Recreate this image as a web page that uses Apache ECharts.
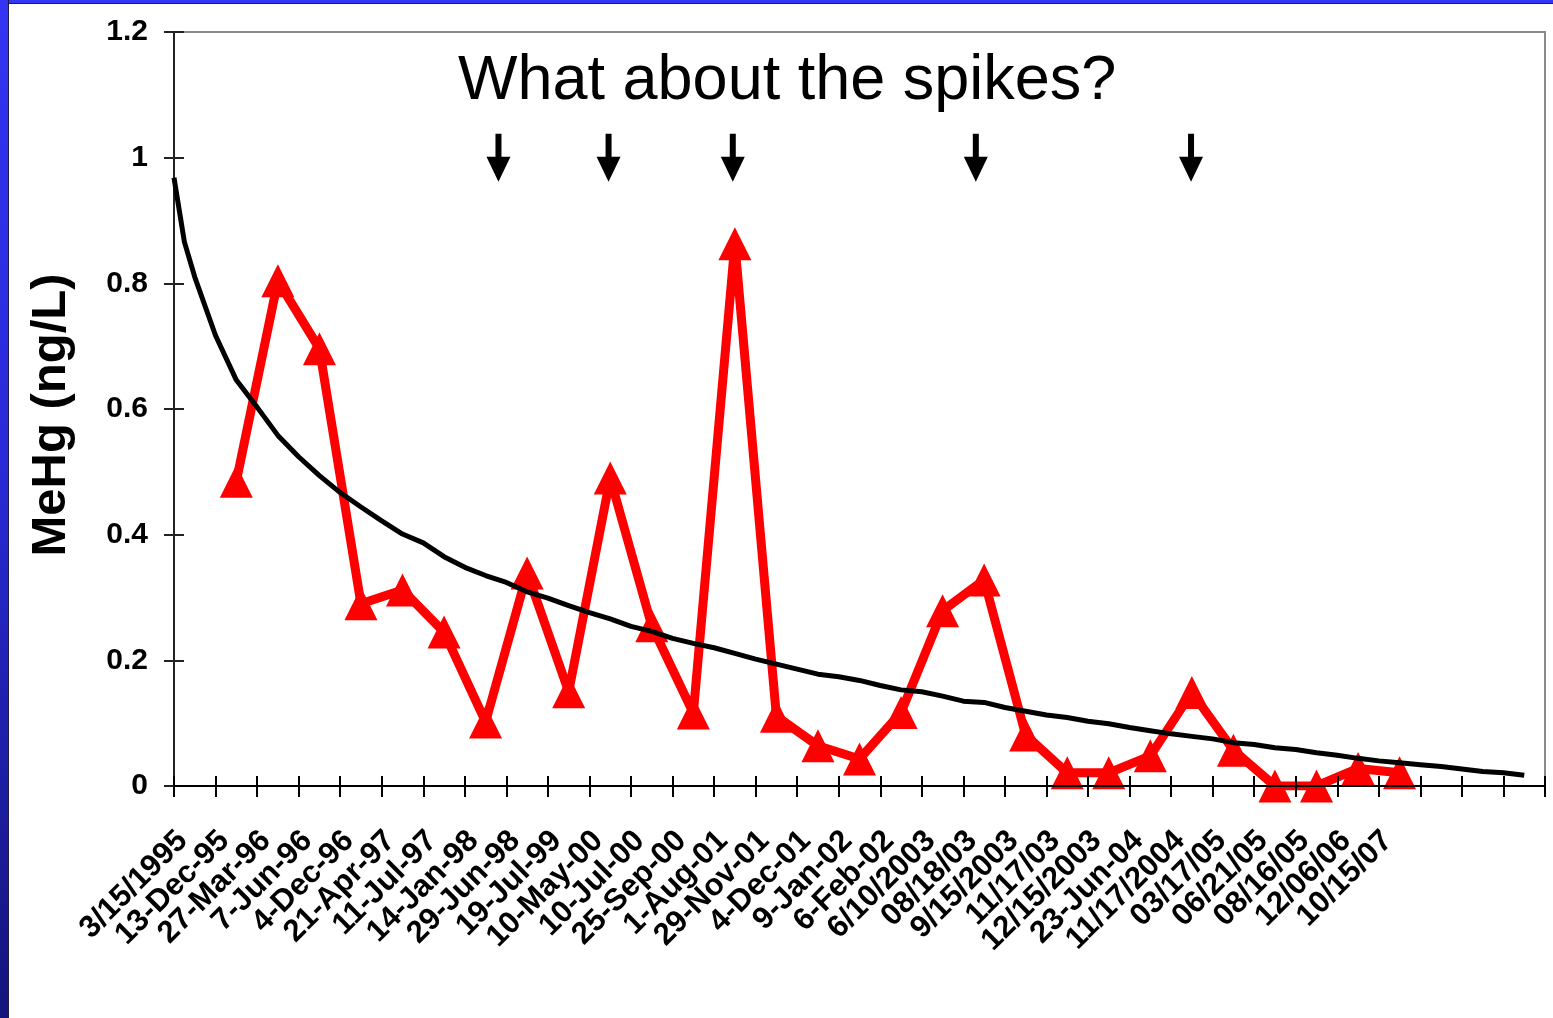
<!DOCTYPE html>
<html>
<head>
<meta charset="utf-8">
<title>MeHg</title>
<script src="https://cdn.jsdelivr.net/npm/echarts@6/dist/echarts.min.js"></script>
<style>
  html, body { margin: 0; padding: 0; background: #fff; }
  #chart { width: 1553px; height: 1018px; }
  .bar-left {
    position: absolute; left: 0; top: 0; width: 8px; height: 1018px;
    background: linear-gradient(to bottom, #3434f4, #2a2ad8 45%, #14147c);
    border-right: 1px solid #1c1c40;
  }
  .bar-top {
    position: absolute; left: 0; top: 0; width: 1553px; height: 3px;
    background: #3434f4; border-bottom: 1px solid #1c1c40;
  }
</style>
</head>
<body>
<div id="chart"></div>
<div class="bar-top"></div>
<div class="bar-left"></div>
<script>
// sample dates (last 3 slots are the trendline's forward extension)
var categories = ['3/15/1995', '13-Dec-95', '27-Mar-96', '7-Jun-96', '4-Dec-96', '21-Apr-97',
  '11-Jul-97', '14-Jan-98', '29-Jun-98', '19-Jul-99', '10-May-00', '10-Jul-00', '25-Sep-00',
  '1-Aug-01', '29-Nov-01', '4-Dec-01', '9-Jan-02', '6-Feb-02', '6/10/2003', '08/18/03',
  '9/15/2003', '11/17/03', '12/15/2003', '23-Jun-04', '11/17/2004', '03/17/05', '06/21/05',
  '08/16/05', '12/06/06', '10/15/07', '', '', '']

// MeHg (ng/L)
var mehg = [null, 0.485, 0.804, 0.696, 0.29, 0.312, 0.245, 0.102, 0.339, 0.15, 0.49,
  0.255, 0.116, 0.863, 0.111, 0.064, 0.043, 0.117, 0.279, 0.328, 0.081,
  0.021, 0.021, 0.048, 0.149, 0.057, 0, 0, 0.028, 0.021, null, null, null]

// trendline (position in category slots from the left axis)
var trendPos = [0, 0.25, 0.5, 1, 1.5, 2, 2.5, 3, 3.5, 4, 4.5, 5, 5.5, 6, 6.5, 7, 7.5, 8, 8.5, 9,
  9.5, 10, 10.5, 11, 11.5, 12, 12.5, 13, 13.5, 14, 14.5, 15, 15.5, 16, 16.5, 17, 17.5, 18,
  18.5, 19, 19.5, 20, 20.5, 21, 21.5, 22, 22.5, 23, 23.5, 24, 24.5, 25, 25.5, 26, 26.5, 27,
  27.5, 28, 28.5, 29, 29.5, 30, 30.5, 31, 31.5, 32, 32.5]
var trendVal = [0.968, 0.866, 0.81, 0.717, 0.646, 0.603, 0.558, 0.524, 0.494, 0.467, 0.444,
  0.422, 0.401, 0.387, 0.365, 0.348, 0.335, 0.324, 0.309, 0.299, 0.287, 0.276, 0.266, 0.254,
  0.246, 0.235, 0.227, 0.22, 0.211, 0.202, 0.194, 0.186, 0.178, 0.174, 0.168, 0.16, 0.153,
  0.15, 0.143, 0.135, 0.133, 0.125, 0.119, 0.113, 0.109, 0.103, 0.099, 0.093, 0.088, 0.083,
  0.079, 0.075, 0.069, 0.066, 0.061, 0.058, 0.053, 0.049, 0.044, 0.04, 0.037, 0.034, 0.031,
  0.027, 0.023, 0.021, 0.017]

// the "spike" arrows
var arrowAt = [7.81, 10.46, 13.45, 19.3, 24.48]
var arrowLevel = 1.0

var yTicks = { min: 0, max: 1.2, interval: 0.2 }

var trendData = trendPos.map(function (p, i) { return [p, trendVal[i]] })
var arrowData = arrowAt.map(function (p) { return [p, arrowLevel] })

var myChart = echarts.init(document.getElementById('chart'))
myChart.setOption({
  animation: false,
  backgroundColor: '#fff',
  title: {
    text: 'What about the spikes?',
    left: 458,
    top: 50,
    padding: 0,
    textStyle: {
      fontFamily: 'Liberation Sans, Arial, sans-serif',
      fontSize: 63,
      fontWeight: 'normal',
      color: '#000'
    }
  },
  graphic: [
    {
      type: 'text',
      x: 51,
      y: 415,
      rotation: Math.PI / 2,
      style: {
        text: 'MeHg (ng/L)',
        fontFamily: 'Liberation Sans, Arial, sans-serif',
        fontSize: 49,
        fontWeight: 'bold',
        fill: '#000',
        align: 'center',
        verticalAlign: 'middle'
      }
    }
  ],
  grid: {
    left: 174,
    right: 8,
    top: 32,
    bottom: 232,
    show: true,
    borderColor: '#8a8a8a',
    borderWidth: 2,
    backgroundColor: '#fff'
  },
  xAxis: [
    {
      type: 'category',
      position: 'bottom',
      data: categories,
      axisLine: { lineStyle: { color: '#000', width: 2 } },
      axisTick: { show: true, interval: 0, length: 11, lineStyle: { color: '#000', width: 2 } },
      axisLabel: {
        interval: 0,
        rotate: 45,
        margin: 38,
        padding: [0, 17, 0, 0],
        fontFamily: 'Liberation Sans, Arial, sans-serif',
        fontSize: 31,
        fontWeight: 'bold',
        color: '#000'
      },
      z: 10
    },
    {
      type: 'category',
      position: 'bottom',
      offset: 0,
      data: categories,
      axisLine: { show: false },
      axisTick: { show: true, interval: 0, inside: true, length: 10, lineStyle: { color: '#000', width: 2 } },
      axisLabel: { show: false },
      z: 10
    },
    {
      type: 'value',
      min: 0,
      max: 33,
      show: false
    }
  ],
  yAxis: [
    {
      type: 'value',
      position: 'left',
      min: yTicks.min,
      max: yTicks.max,
      interval: yTicks.interval,
      splitLine: { show: false },
      axisLine: { show: true, lineStyle: { color: '#222', width: 2 } },
      axisTick: { show: true, length: 10, lineStyle: { color: '#222', width: 2 } },
      axisLabel: {
        margin: 26,
        fontFamily: 'Liberation Sans, Arial, sans-serif',
        fontSize: 30,
        fontWeight: 'bold',
        color: '#000'
      }
    },
    {
      type: 'value',
      position: 'left',
      offset: 0,
      min: yTicks.min,
      max: yTicks.max,
      interval: yTicks.interval,
      splitLine: { show: false },
      axisLine: { show: false },
      axisTick: { show: true, inside: true, length: 10, lineStyle: { color: '#222', width: 2 } },
      axisLabel: { show: false }
    }
  ],
  series: [
    {
      name: 'MeHg',
      type: 'line',
      xAxisIndex: 0,
      yAxisIndex: 0,
      data: mehg,
      symbol: 'triangle',
      symbolSize: 33,
      itemStyle: { color: '#ff0000' },
      lineStyle: { color: '#ff0000', width: 9 },
      z: 3
    },
    {
      name: 'Trend',
      type: 'line',
      xAxisIndex: 2,
      yAxisIndex: 0,
      data: trendData,
      showSymbol: false,
      symbol: 'none',
      lineStyle: { color: '#000', width: 5 },
      z: 4
    },
    {
      name: 'Spikes',
      type: 'scatter',
      xAxisIndex: 2,
      yAxisIndex: 0,
      data: arrowData,
      symbol: 'path://M9,0 L15,0 L15,23 L24,23 L12,48 L0,23 L9,23 Z',
      symbolSize: [24, 48],
      itemStyle: { color: '#000', opacity: 1 },
      z: 5
    }
  ]
})
</script>
</body>
</html>
